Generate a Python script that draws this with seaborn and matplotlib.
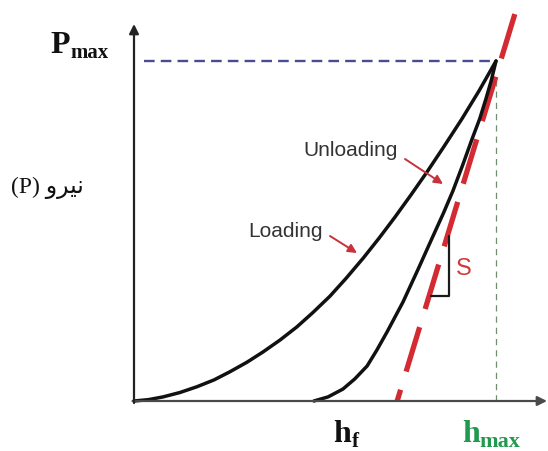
import matplotlib
matplotlib.use('Agg')
import matplotlib.pyplot as plt
import numpy as np
import pandas as pd
import seaborn as sns

# ---- data (normalised: depth h/h_max, load P/P_max) ----
loading_h = [0.0, 0.040, 0.080, 0.127, 0.174, 0.221, 0.265, 0.312, 0.356, 0.403, 0.450,
             0.494, 0.541, 0.586, 0.633, 0.677, 0.721, 0.765, 0.809, 0.856, 0.906, 0.953, 1.0]
loading_P = [0.0, 0.004, 0.012, 0.025, 0.042, 0.062, 0.086, 0.114, 0.144, 0.179, 0.218,
             0.260, 0.308, 0.361, 0.420, 0.479, 0.541, 0.606, 0.673, 0.748, 0.830, 0.912, 1.0]
unloading_h = [0.497, 0.536, 0.577, 0.610, 0.644, 0.671, 0.699, 0.721, 0.743, 0.785,
               0.826, 0.855, 0.881, 0.908, 0.934, 0.955, 0.972, 0.987, 1.0]
unloading_P = [0.0, 0.012, 0.035, 0.065, 0.103, 0.150, 0.203, 0.247, 0.291, 0.388,
               0.485, 0.553, 0.618, 0.694, 0.771, 0.830, 0.888, 0.943, 1.0]
tangent_h = [1.052, 0.727]
tangent_P = [1.138, 0.0]
h_max = 1.0
P_max = 1.0
slope_tri_h = [0.820, 0.870, 0.870]
slope_tri_P = [0.309, 0.309, 0.485]

labels = {
    "unloading": "Unloading",
    "loading": "Loading",
    "slope": "S",
    "force": "(P) \uFEED\uFEAE\uFEF4\uFEE7",   # نيرو (P), shaped for display
}

sns.set_theme(style="white")
plt.rcParams['font.family'] = ['Liberation Sans', 'DejaVu Sans']

W, H = 548, 452
X0, Y0, SX, SY = 134, 402, 362, 340

def px(x, y):
    return ((x - X0) / SX, (Y0 - y) / SY)

fig = plt.figure(figsize=(W / 100, H / 100), dpi=100)
ax = fig.add_axes([0, 0, 1, 1])
ax.set_xlim(-X0 / SX, (W - X0) / SX)
ax.set_ylim(-(H - Y0) / SY, Y0 / SY)
ax.axis('off')

load_df = pd.DataFrame({"h": loading_h, "P": loading_P})
unload_df = pd.DataFrame({"h": unloading_h, "P": unloading_P})
tan_df = pd.DataFrame({"h": tangent_h, "P": tangent_P})

# axes with arrows
axis_col = '#4a4a4a'
ax.annotate('', xy=(px(547, 0)[0], 0), xytext=(px(134, 0)[0] - 0.004, 0),
            arrowprops=dict(arrowstyle='-|>', color=axis_col, lw=1.6, mutation_scale=14,
                            shrinkA=0, shrinkB=0))
ax.annotate('', xy=(0, px(0, 25)[1]), xytext=(0, -0.006),
            arrowprops=dict(arrowstyle='-|>', color='#222222', lw=1.6, mutation_scale=14,
                            shrinkA=0, shrinkB=0))

# reference dashed lines
ax.plot([px(144, 0)[0], px(490, 0)[0]], [P_max, P_max], color='#4b4b90', lw=1.7,
        dashes=(4.5, 2.6))
ax.plot([h_max, h_max], [0, 0.95], color='#6f8f6f', lw=0.9, dashes=(5, 4))

# tangent (stiffness) line
sns.lineplot(data=tan_df, x="h", y="P", ax=ax, sort=False, estimator=None,
             color='#d42b32', lw=3.8, dashes=False, legend=False)
ax.lines[-1].set_dashes((8.8, 3.6))
ax.lines[-1].set_solid_capstyle('butt')

# curves
for df in (load_df, unload_df):
    sns.lineplot(data=df, x="h", y="P", ax=ax, sort=False, estimator=None,
                 color='#111111', lw=2.5, legend=False)
    ax.lines[-1].set_solid_joinstyle('round')
    ax.lines[-1].set_solid_capstyle('round')

# slope triangle
ax.plot(slope_tri_h, slope_tri_P, color='#1a1a1a', lw=1.6)

# annotation arrows
arrow_col = '#c8323c'
ax.annotate('', xy=px(443, 185), xytext=px(405, 160),
            arrowprops=dict(arrowstyle='-|>', color=arrow_col, lw=1.4, mutation_scale=13,
                            shrinkA=0, shrinkB=0))
ax.annotate('', xy=px(357, 254), xytext=px(330, 237),
            arrowprops=dict(arrowstyle='-|>', color=arrow_col, lw=1.4, mutation_scale=13,
                            shrinkA=0, shrinkB=0))

# texts
txt_col = '#333333'
ax.text(*px(303, 156), labels["unloading"], fontsize=15, color=txt_col, ha='left', va='baseline')
ax.text(*px(248, 237), labels["loading"], fontsize=15, color=txt_col, ha='left', va='baseline')
ax.text(*px(456, 275), labels["slope"], fontsize=17, color='#d23a3a', ha='left', va='baseline')

serif = ['Liberation Serif', 'DejaVu Serif']
ax.text(*px(50, 53), 'P', fontsize=23, fontweight='bold', family=serif, ha='left', va='baseline',
        color='#111111')
ax.text(*px(70, 58), 'max', fontsize=15, fontweight='bold', family=serif, ha='left', va='baseline',
        color='#111111')
ax.text(*px(333, 442), 'h', fontsize=23, fontweight='bold', family=serif, ha='left', va='baseline',
        color='#111111')
ax.text(*px(352, 447), 'f', fontsize=15, fontweight='bold', family=serif, ha='left', va='baseline',
        color='#111111')
green = '#219a4f'
ax.text(*px(462, 442), 'h', fontsize=23, fontweight='bold', family=serif, ha='left', va='baseline',
        color=green)
ax.text(*px(479, 447), 'max', fontsize=16, fontweight='bold', family=serif, ha='left', va='baseline',
        color=green)

ax.text(*px(11, 188), labels["force"], fontsize=17,
        family=['Liberation Serif', 'DejaVu Sans'], ha='left', va='center', color='#111111')

fig.savefig('out.png', dpi=100, facecolor='white')
